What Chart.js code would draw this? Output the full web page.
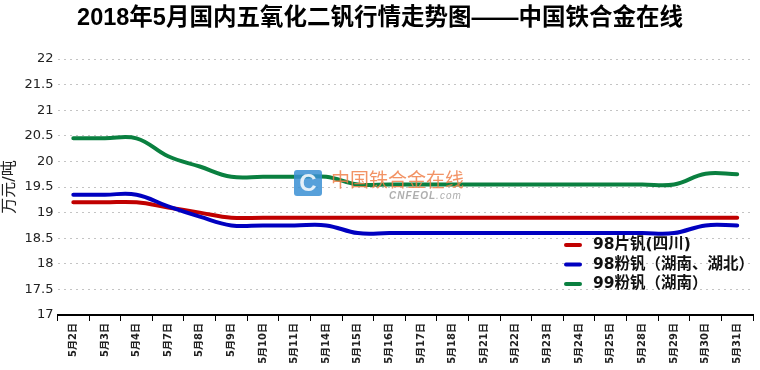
<!DOCTYPE html>
<html lang="zh">
<head>
<meta charset="UTF-8">
<title>2018年5月国内五氧化二钒行情走势图</title>
<style>
  html, body { margin: 0; padding: 0; background: #fff; }
  #wrap { width: 760px; height: 370px; }
</style>
</head>
<body>
<div id="wrap"><canvas id="chart" width="760" height="370"></canvas></div>
<script src="https://cdn.jsdelivr.net/npm/chart.js"></script>
<script>
  // trading days of May 2018
  const dates = ['5月2日', '5月3日', '5月4日', '5月7日', '5月8日', '5月9日', '5月10日', '5月11日',
    '5月14日', '5月15日', '5月16日', '5月17日', '5月18日', '5月21日', '5月22日', '5月23日',
    '5月24日', '5月25日', '5月28日', '5月29日', '5月30日', '5月31日'];

  // prices, 10k yuan / ton
  const flake98Sichuan = [19.2, 19.2, 19.2, 19.1, 19.0, 18.9, 18.9, 18.9, 18.9, 18.9, 18.9,
    18.9, 18.9, 18.9, 18.9, 18.9, 18.9, 18.9, 18.9, 18.9, 18.9, 18.9];
  const powder98Hunan = [19.35, 19.35, 19.35, 19.12, 18.92, 18.75, 18.75, 18.75, 18.75, 18.6, 18.6,
    18.6, 18.6, 18.6, 18.6, 18.6, 18.6, 18.6, 18.6, 18.6, 18.75, 18.75];
  const powder99Hunan = [20.45, 20.45, 20.45, 20.1, 19.9, 19.7, 19.7, 19.7, 19.7, 19.55, 19.55,
    19.55, 19.55, 19.55, 19.55, 19.55, 19.55, 19.55, 19.55, 19.55, 19.76, 19.75];

  const seriesNames = ['98片钒(四川)', '98粉钒（湖南、湖北）', '99粉钒（湖南）'];
  const seriesColors = ['#c00000', '#0000c0', '#0a8040'];

  const yMin = 17;
  const yMax = 22;
  const yStep = 0.5;

  const titleText = '2018年5月国内五氧化二钒行情走势图——中国铁合金在线';
  const yTitle = '万元/吨';

  const headerPlugin = {
    id: 'header',
    afterDraw(chart) {
      const ctx = chart.ctx;
      ctx.save();
      ctx.fillStyle = '#000';
      ctx.font = 'bold 23.5px "Liberation Sans", "Noto Sans CJK SC", sans-serif';
      ctx.textAlign = 'center';
      ctx.textBaseline = 'middle';
      ctx.fillText(titleText, 380, 19);
      ctx.restore();
    }
  };

  // site watermark in the middle of the plot
  const watermarkPlugin = {
    id: 'watermark',
    afterDatasetsDraw(chart) {
      const ctx = chart.ctx;
      ctx.save();
      ctx.globalAlpha = 0.85;
      ctx.fillStyle = '#3a8fd4';
      ctx.beginPath();
      ctx.roundRect(294, 170, 28, 26, 3);
      ctx.fill();
      ctx.fillStyle = '#fff';
      ctx.font = 'bold 24px "Liberation Sans", sans-serif';
      ctx.textAlign = 'center';
      ctx.textBaseline = 'middle';
      ctx.fillText('C', 308, 184);
      ctx.fillStyle = '#f0804a';
      ctx.font = '19px "Noto Sans CJK SC", sans-serif';
      ctx.textAlign = 'left';
      ctx.fillText('中国铁合金在线', 331, 180);
      ctx.fillStyle = '#a0a0a0';
      ctx.font = 'italic bold 10px "Liberation Sans", sans-serif';
      ctx.letterSpacing = '1px';
      ctx.fillText('CNFEOL', 389, 196);
      const w = ctx.measureText('CNFEOL').width;
      ctx.font = 'italic 10px "Liberation Sans", sans-serif';
      ctx.fillText('.com', 389 + w, 196);
      ctx.restore();
    }
  };

  // legend sits inside the plot, lower right
  const legendPlugin = {
    id: 'insideLegend',
    afterDraw(chart) {
      const ctx = chart.ctx;
      ctx.save();
      ctx.textBaseline = 'middle';
      ctx.textAlign = 'left';
      ctx.font = 'bold 15.5px "DejaVu Sans", "Noto Sans CJK SC", sans-serif';
      seriesNames.forEach((name, i) => {
        const y = 245 + i * 19.5;
        ctx.strokeStyle = seriesColors[i];
        ctx.lineWidth = 4;
        ctx.lineCap = 'round';
        ctx.beginPath();
        ctx.moveTo(566, y);
        ctx.lineTo(580, y);
        ctx.stroke();
        ctx.fillStyle = '#111';
        ctx.fillText(name, 593, y);
      });
      ctx.restore();
    }
  };

  const lineStyle = {
    borderWidth: 4,
    pointRadius: 0,
    tension: 0.4,
    fill: false,
    borderCapStyle: 'round'
  };

  new Chart(document.getElementById('chart'), {
    type: 'line',
    data: {
      labels: dates,
      datasets: [
        { label: seriesNames[0], data: flake98Sichuan, borderColor: seriesColors[0], order: 2, ...lineStyle },
        { label: seriesNames[1], data: powder98Hunan, borderColor: seriesColors[1], order: 1, ...lineStyle },
        { label: seriesNames[2], data: powder99Hunan, borderColor: seriesColors[2], order: 3, ...lineStyle }
      ]
    },
    options: {
      responsive: false,
      animation: false,
      devicePixelRatio: 1,
      layout: { padding: { top: 59, right: 7, left: 0, bottom: 0 } },
      plugins: {
        legend: { display: false },
        title: { display: false },
        tooltip: { enabled: false }
      },
      scales: {
        x: {
          offset: true,
          grid: {
            display: true,
            offset: true,
            drawOnChartArea: false,
            drawTicks: true,
            tickLength: 6,
            color: '#000',
            lineWidth: 1
          },
          border: { display: true, color: '#000', width: 2 },
          ticks: {
            autoSkip: false,
            maxRotation: 90,
            minRotation: 90,
            padding: 2,
            color: '#222',
            font: { family: '"DejaVu Sans", "Noto Sans CJK SC", sans-serif', size: 10, weight: 'bold' }
          },
          afterFit(scale) { scale.height = 55; }
        },
        y: {
          min: yMin,
          max: yMax,
          grid: {
            color: '#c4c4c4',
            lineWidth: 1,
            drawTicks: false
          },
          // in v4 border.dash sets the grid line dash
          border: { display: false, dash: [2, 4] },
          ticks: {
            stepSize: yStep,
            padding: 4,
            color: '#222',
            font: { family: '"DejaVu Sans", sans-serif', size: 13 },
            callback: (v) => String(Math.round(v * 10) / 10)
          },
          title: {
            display: true,
            text: yTitle,
            color: '#222',
            padding: 0,
            font: { family: '"DejaVu Sans", "Noto Sans CJK SC", sans-serif', size: 16 }
          },
          afterFit(scale) { scale.width = 57.5; }
        }
      }
    },
    plugins: [headerPlugin, watermarkPlugin, legendPlugin]
  });
</script>
</body>
</html>
